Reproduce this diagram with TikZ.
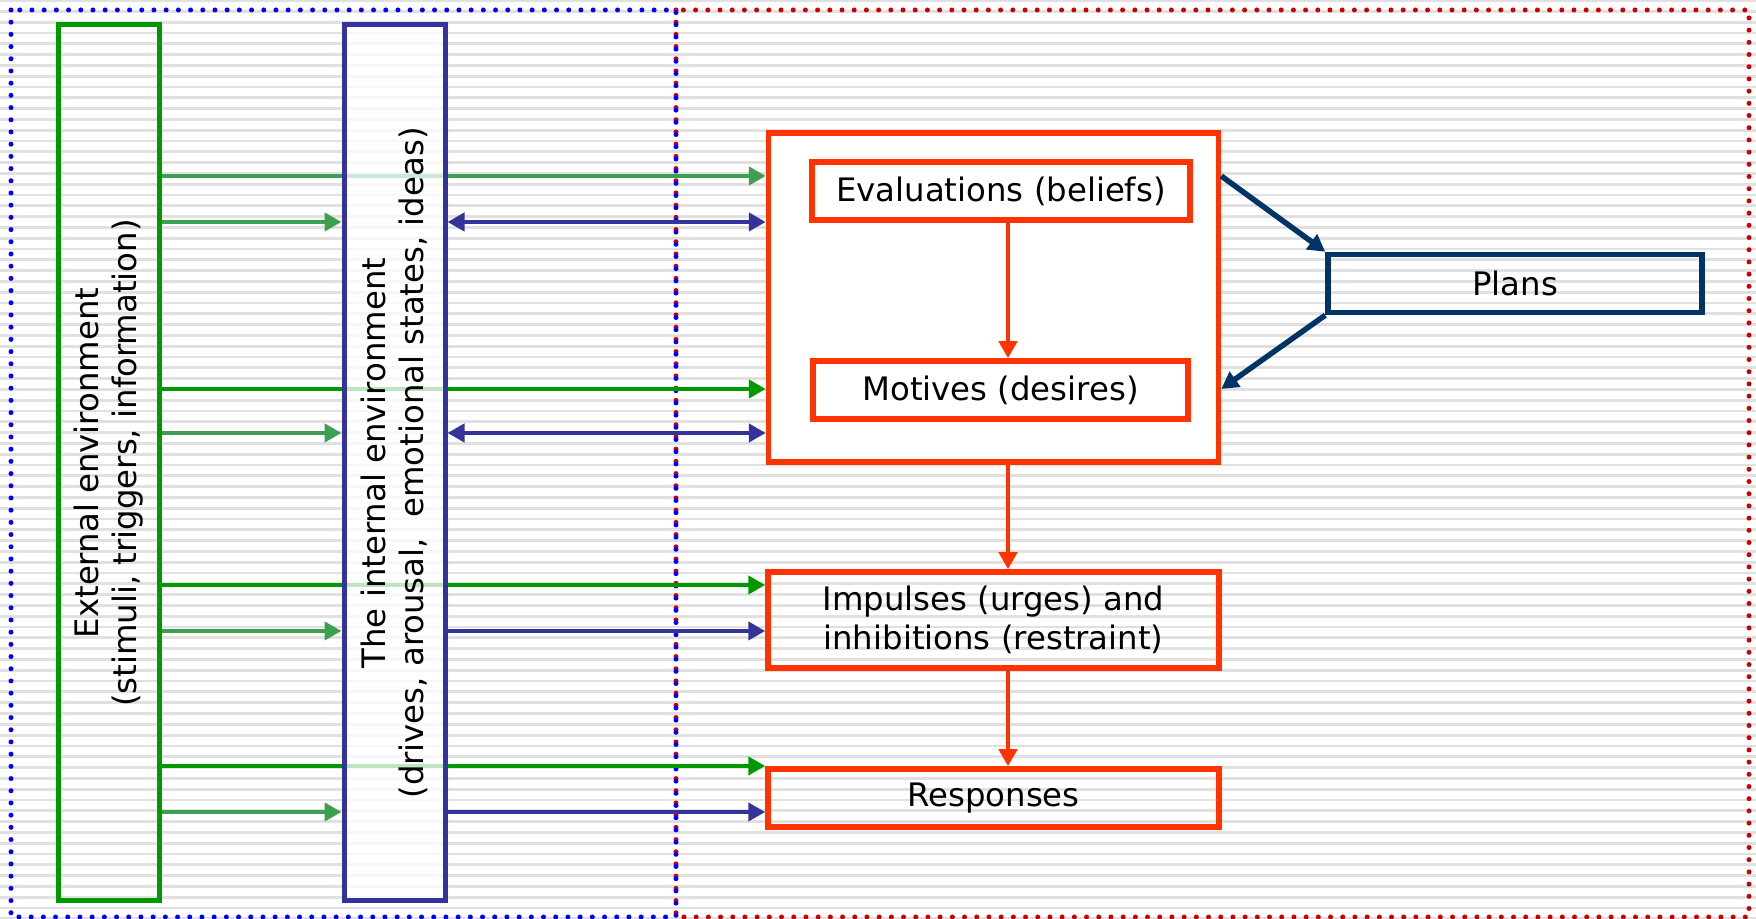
\documentclass[tikz,border=0pt]{standalone}
\usepackage{fontspec}
\setmainfont{DejaVu Sans}
\usepackage{xcolor}
\usetikzlibrary{arrows.meta, positioning}

\definecolor{mindred}{HTML}{FF3300}
\definecolor{plannavy}{HTML}{003366}
\definecolor{envblue}{HTML}{333399}
\definecolor{envgreen}{HTML}{009900}
\definecolor{paleenv}{HTML}{3CA050}
\definecolor{framered}{HTML}{CC0000}
\definecolor{frameblue}{HTML}{0000FF}

\tikzset{
  envbox/.style = {draw, line width=0.05cm, minimum width=1.01cm, minimum height=8.76cm, inner sep=0pt},
  redbox/.style = {draw=mindred, line width=0.055cm, minimum width=#1, minimum height=0.58cm, inner sep=0pt, align=center},
  arr/.style = {->, line width=0.047cm},
  stripe/.style = {line width=0.028cm, black!12},
  frame/.style = {line width=0.05cm, line cap=round, dash pattern=on 0pt off 0.122cm}
}

\begin{document}
\begin{tikzpicture}[> = {Triangle[length=0.17cm, width=0.18cm]}, font=\fontsize{9.2}{10.9}\selectfont]
			\useasboundingbox (0,0) rectangle (17.56,9.19);
			
			% striped background
			\foreach \k in {0,...,85}
				\draw [stripe] (0,9.183-0.108*\k) -- (17.56,9.183-0.108*\k);
			
			\draw [frame, framered] (6.76,9.09) rectangle (17.49,0.02);
			\draw [frame, frameblue] (0.11,9.09) rectangle (6.76,0.02);
			
			% rows of arrows
			\coordinate (r1) at (0,7.43);  \coordinate (s1) at (0,6.97);
			\coordinate (r2) at (0,5.30);  \coordinate (s2) at (0,4.86);
			\coordinate (r3) at (0,3.34);  \coordinate (s3) at (0,2.88);
			\coordinate (r4) at (0,1.53);  \coordinate (s4) at (0,1.07);
			\coordinate (spine) at (10.08,0);
			
			\node [envbox, draw=envgreen] (ext) at (1.085,4.56) {};
			\node [rotate=90, align=center] (ext-text) at (ext) {External environment\\(stimuli, triggers, information)};
			
			\node [draw=mindred, fill=white, line width=0.055cm, minimum width=4.5cm, minimum height=3.29cm] (mind) at (9.935,6.215) {};
			\node [redbox=3.78cm, fill=white] (eval) at (10.01,7.28) {Evaluations (beliefs)};
			\node [redbox=3.75cm, fill=white] (motive) at (10.005,5.29) {Motives (desires)};
			\node [redbox=4.51cm, minimum height=0.96cm] (impulse) at (9.935,2.99) {Impulses (urges) and\\inhibitions (restraint)};
			\node [redbox=4.51cm] (resp) at (9.935,1.21) {Responses};
			\node [redbox=3.74cm, draw=plannavy] (plans) at (15.15,6.355) {Plans};
			
			\draw [arr, paleenv] (ext.east |- r1) -- (mind.west |- r1);
			\draw [arr, envgreen] (ext.east |- r2) -- (mind.west |- r2);
			\draw [arr, envgreen] (ext.east |- r3) -- (impulse.west |- r3);
			\draw [arr, envgreen] (ext.east |- r4) -- (resp.west |- r4);
			
			% internal environment lies over the long arrows
			\node [envbox, draw=envblue, fill=white, fill opacity=0.75, text opacity=1] (intl) at (3.945,4.56) {};
			\node [rotate=90, align=center] (intl-text) at (intl) {The internal environment\\(drives, arousal,\ \ emotional states, ideas)};
			
			\foreach \s in {s1, s2, s3, s4}
				\draw [arr, paleenv] (ext.east |- \s) -- (intl.west |- \s);
			
			\draw [arr, <->, envblue] (intl.east |- s1) -- (mind.west |- s1);
			\draw [arr, <->, envblue] (intl.east |- s2) -- (mind.west |- s2);
			\draw [arr, envblue] (intl.east |- s3) -- (impulse.west |- s3);
			\draw [arr, envblue] (intl.east |- s4) -- (resp.west |- s4);
			
			\draw [arr, mindred] (eval.south -| spine) -- (motive.north -| spine);
			\draw [arr, mindred] (mind.south -| spine) -- (impulse.north -| spine);
			\draw [arr, mindred] (impulse.south -| spine) -- (resp.north -| spine);
			
			\draw [arr, plannavy, line width=0.055cm] (mind.east |- r1) -- (plans.north west);
			\draw [arr, plannavy, line width=0.055cm] (plans.south west) -- (mind.east |- r2);
		\end{tikzpicture}
\end{document}
